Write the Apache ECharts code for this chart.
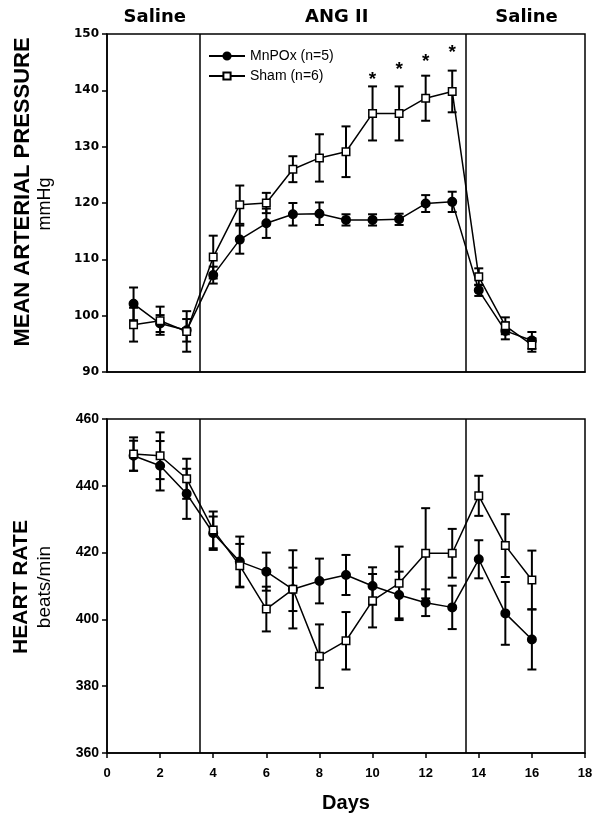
<!DOCTYPE html>
<html><head><meta charset="utf-8">
<script src="https://cdn.jsdelivr.net/npm/echarts@6/dist/echarts.min.js"></script>
<style>html,body{margin:0;padding:0;background:#fff}#c{width:600px;height:824px}</style>
</head><body><div id="c"></div><script>
const days = [1,2,3,4,5,6,7,8,9,10,11,12,13,14,15,16];
const mapMn     = [102.1, 98.6, 97.4,107.2,113.5,116.4,118.0,118.1,117.0,117.0,117.1,119.9,120.2,104.5, 97.3, 95.6];
const mapMnSE   = [2.9, 1.5, 2.0, 1.5, 2.5, 2.6, 2.0, 2.0, 1.0, 1.0, 1.0, 1.5, 1.8, 1.0, 1.5, 1.5];
const mapSham   = [98.4, 99.1, 97.2,110.4,119.7,120.0,126.0,128.0,129.1,135.9,135.9,138.6,139.8,106.9, 98.2, 94.8];
const mapShamSE = [3.0, 2.5, 3.6, 3.8, 3.4, 1.8, 2.3, 4.2, 4.5, 4.8, 4.8, 4.0, 3.7, 1.5, 1.5, 1.2];
const hrMn      = [449, 446, 437.6, 425.8, 417.3, 414.3, 409, 411.5, 413.3, 410, 407.3, 405, 403.6, 418, 401.8, 394];
const hrMnSE    = [4.5, 7.4, 7.5, 5, 7.5, 5.7, 6.5, 6.7, 6, 5.6, 7, 4, 6.5, 5.7, 9.4, 9];
const hrSham    = [449.5, 449, 442.1, 426.8, 416.1, 403.1, 409, 389, 393.6, 405.6, 410.8, 419.8, 419.8, 437, 422.1, 411.8];
const hrShamSE  = [5, 7, 6, 5.5, 6.5, 6.7, 11.7, 9.5, 8.6, 8, 11, 13.5, 7.3, 6, 9.4, 8.8];
const starDays  = [10, 11, 12, 13];
const starVals  = [142.6, 144.4, 145.8, 147.3];
const phaseBounds = [3.5, 13.5];
const phaseNames  = ['Saline', 'ANG II', 'Saline'];
const phaseCenters = [1.8, 8.65, 15.8];
const seriesNames = ['MnPOx (n=5)', 'Sham (n=6)'];

const chart = echarts.init(document.getElementById('c'), null, {renderer:'canvas'});
const zip = (a) => days.map((d,i)=>[d,a[i]]);
const zipE = (a,s) => days.map((d,i)=>[d,a[i],s[i]]);
function errRender(params, api){
  const x=api.value(0), m=api.value(1), s=api.value(2);
  const hi=api.coord([x,m+s]), lo=api.coord([x,m-s]);
  const w=4.5, st={stroke:'#000', lineWidth:2};
  return {type:'group', children:[
    {type:'line', shape:{x1:hi[0],y1:hi[1],x2:lo[0],y2:lo[1]}, style:st},
    {type:'line', shape:{x1:hi[0]-w,y1:hi[1],x2:hi[0]+w,y2:hi[1]}, style:st},
    {type:'line', shape:{x1:lo[0]-w,y1:lo[1],x2:lo[0]+w,y2:lo[1]}, style:st}
  ]};
}
function starRender(params, api){
  const p = api.coord([api.value(0), api.value(1)]);
  return {type:'text', x:p[0], y:p[1]+4,
    style:{text:'*', fill:'#000', font:'bold 19px Arial, "Liberation Sans", sans-serif', textAlign:'center', textVerticalAlign:'middle'}};
}
const FONT = 'Arial, "Liberation Sans", sans-serif';
const WIDE = '"DejaVu Sans", Verdana, sans-serif';
const vline = () => ({
  silent:true, symbol:'none', label:{show:false},
  lineStyle:{color:'#000', type:'solid', width:1.5},
  data: phaseBounds.map(b=>({xAxis:b}))
});
function lineSeries(name, data, xi, filled, withMark){
  const s = {
    name, type:'line', xAxisIndex:xi, yAxisIndex:xi, data,
    symbol: filled ? 'circle' : 'rect', symbolSize: filled ? 8.5 : 7.5,
    itemStyle:{color: filled ? '#000' : '#fff', borderColor:'#000', borderWidth:1.5},
    lineStyle:{color:'#000', width:1.5}, z:5, animation:false
  };
  if (withMark) s.markLine = vline();
  return s;
}
function errSeries(data, xi){
  return {type:'custom', xAxisIndex:xi, yAxisIndex:xi, data, renderItem:errRender,
    encode:{x:0,y:1}, z:3, animation:false, silent:true};
}
const axisCommonY = {
  axisLine:{show:true, lineStyle:{color:'#000', width:1.5}},
  axisTick:{show:true, inside:false, length:5, lineStyle:{color:'#000', width:1.5}},
  splitLine:{show:false}
};
const option = {
  animation:false,
  backgroundColor:'#fff',
  grid:[
    {left:107, top:34, width:478, height:338, show:true, borderColor:'#000', borderWidth:1.5, backgroundColor:'transparent'},
    {left:107, top:419, width:478, height:334, show:true, borderColor:'#000', borderWidth:1.5, backgroundColor:'transparent'}
  ],
  xAxis:[
    {type:'value', gridIndex:0, min:0, max:18, interval:2,
     axisLine:{show:true, lineStyle:{color:'#000', width:1.5}}, axisTick:{show:false},
     axisLabel:{show:false}, splitLine:{show:false}},
    {type:'value', gridIndex:1, min:0, max:18, interval:2,
     axisLine:{show:true, lineStyle:{color:'#000', width:1.5}},
     axisTick:{show:true, length:5, lineStyle:{color:'#000', width:1.5}},
     axisLabel:{color:'#000', fontFamily:FONT, fontWeight:'bold', fontSize:13, margin:14},
     splitLine:{show:false},
     name:'Days', nameLocation:'middle', nameGap:40,
     nameTextStyle:{color:'#000', fontFamily:FONT, fontWeight:'bold', fontSize:20}}
  ],
  yAxis:[
    Object.assign({type:'value', gridIndex:0, min:90, max:150, interval:10,
      axisLabel:{color:'#000', fontFamily:WIDE, fontWeight:'bold', fontSize:12, margin:8}}, axisCommonY),
    Object.assign({type:'value', gridIndex:1, min:360, max:460, interval:20,
      axisLabel:{color:'#000', fontFamily:FONT, fontWeight:'bold', fontSize:14, margin:8}}, axisCommonY)
  ],
  legend:{
    data:seriesNames, orient:'vertical', left:203, top:44, itemGap:6,
    itemWidth:36, itemHeight:9,
    textStyle:{color:'#000', fontFamily:FONT, fontSize:14}
  },
  series:[
    errSeries(zipE(mapMn,mapMnSE),0),
    errSeries(zipE(mapSham,mapShamSE),0),
    errSeries(zipE(hrMn,hrMnSE),1),
    errSeries(zipE(hrSham,hrShamSE),1),
    lineSeries(seriesNames[0], zip(mapMn), 0, true, true),
    lineSeries(seriesNames[1], zip(mapSham), 0, false, false),
    lineSeries(seriesNames[0], zip(hrMn), 1, true, true),
    lineSeries(seriesNames[1], zip(hrSham), 1, false, false),
    {type:'custom', xAxisIndex:0, yAxisIndex:0, silent:true, encode:{x:0,y:1}, z:6,
     data: starDays.map((d,i)=>[d,starVals[i]]), renderItem:starRender}
  ]
};
chart.setOption(option);

const g = [];
phaseCenters.forEach((c,i)=>{
  const px = chart.convertToPixel({xAxisIndex:0}, c);
  g.push({type:'text', x:px, y:17, style:{text:phaseNames[i], fill:'#000', font:'bold 18px '+WIDE, textAlign:'center', textVerticalAlign:'middle'}});
});
function rotTitle(x, y, text, bold, size){
  return {type:'text', x, y, rotation:Math.PI/2,
    style:{text, fill:'#000', font:(bold?'bold ':'')+size+'px '+FONT, textAlign:'center', textVerticalAlign:'middle'}};
}
g.push(rotTitle(23, 192, 'MEAN ARTERIAL PRESSURE', true, 22));
g.push(rotTitle(45, 204, 'mmHg', false, 18));
g.push(rotTitle(21, 587, 'HEART RATE', true, 21));
g.push(rotTitle(45, 587, 'beats/min', false, 19));
chart.setOption({graphic:g});
</script></body></html>
